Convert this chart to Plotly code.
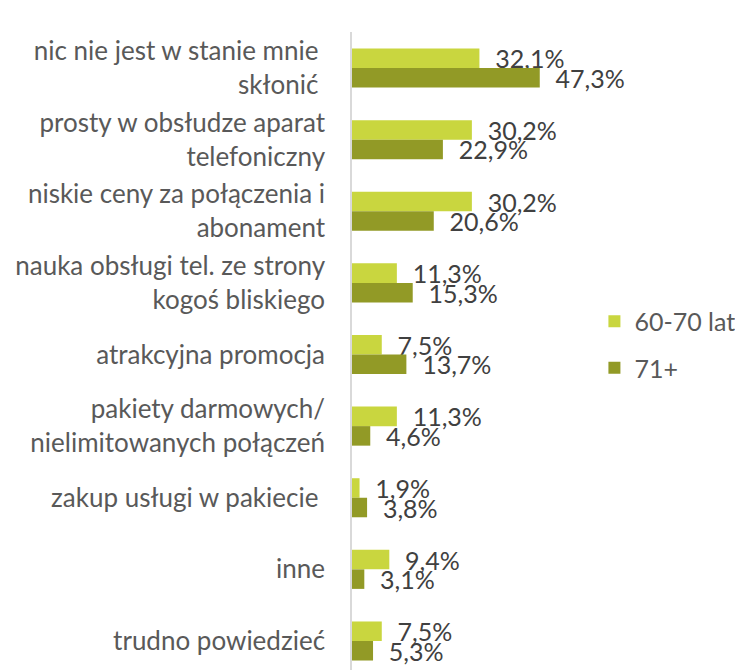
import plotly.graph_objects as go

NB = "\u00a0"
categories = [
    "nic nie jest w stanie mnie" + NB + "<br>skłonić" + NB,
    "prosty w obsłudze aparat<br>telefoniczny",
    "niskie ceny za połączenia i<br>abonament",
    "nauka obsługi tel. ze strony<br>kogoś bliskiego",
    "atrakcyjna promocja",
    "pakiety darmowych/<br>nielimitowanych połączeń",
    "zakup usługi w pakiecie" + NB,
    "inne",
    "trudno powiedzieć",
]
series_names = ["60-70 lat", "71+"]
values_60_70 = [32.1, 30.2, 30.2, 11.3, 7.5, 11.3, 1.9, 9.4, 7.5]
values_71 = [47.3, 22.9, 20.6, 15.3, 13.7, 4.6, 3.8, 3.1, 5.3]

colors = ["#C9D63F", "#929A26"]
FONT = "Lato"
FS = 25
ypos = list(range(len(categories)))

fig = go.Figure()
for i, (name, vals) in enumerate(zip(series_names, [values_60_70, values_71])):
    fig.add_trace(go.Bar(
        y=ypos, x=vals, name=name, orientation="h",
        marker=dict(color=colors[i], line=dict(width=0)),
        texttemplate=NB * 2 + "%{x:.1f}%",
        textposition="outside", constraintext="none", cliponaxis=False,
        textfont=dict(family=FONT, size=FS, color="#404040"),
        legendgroup=name,
    ))

# page body has an 8px margin, so the figure is sized and offset for that
fig.update_layout(
    width=735, height=662,
    margin=dict(l=344, r=0, t=24, b=0, autoexpand=False),
    paper_bgcolor="white", plot_bgcolor="white",
    barmode="group", bargap=0.455, bargroupgap=0,
    separators=", ",
    font=dict(family=FONT, size=FS, color="#595959"),
    showlegend=True,
    legend=dict(x=0.62, xanchor="left", y=0.51, yanchor="middle",
                font=dict(family=FONT, size=FS, color="#595959"),
                tracegroupgap=11, bgcolor="rgba(0,0,0,0)"),
    xaxis=dict(range=[0, 98.5], showgrid=False, zeroline=False,
               showticklabels=False, showline=False, fixedrange=True),
    yaxis=dict(range=[8.405, -0.503], tickvals=ypos, ticktext=categories,
               showgrid=False, zeroline=False, showline=True,
               linecolor="#D9D9D9", linewidth=1.5, ticks="",
               ticklabelstandoff=20, automargin=False,
               tickfont=dict(family=FONT, size=26, color="#595959")),
)

fig.write_html("out.html")
